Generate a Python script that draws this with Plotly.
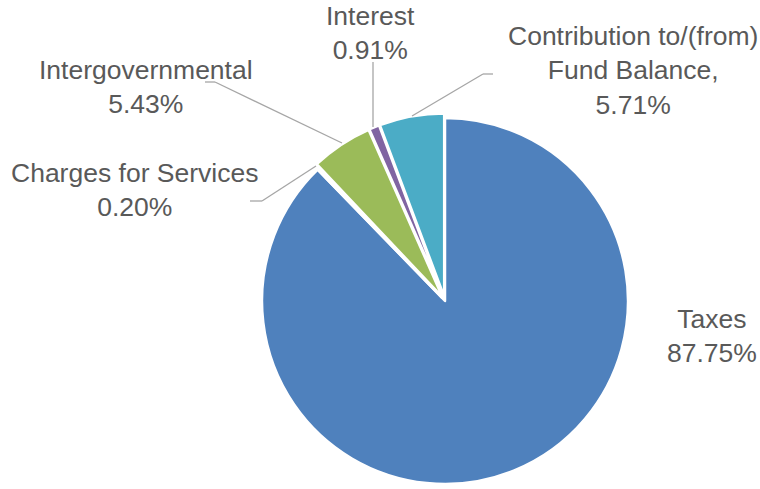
import plotly.graph_objects as go

categories = ["Taxes", "Charges for Services", "Intergovernmental", "Interest",
              "Contribution to/(from) Fund Balance,"]
values = [87.75, 0.20, 5.43, 0.91, 5.71]
colors = ["#4F81BD", "#C0504D", "#9BBB59", "#8064A2", "#4BACC6"]
pulls = [0, 0.025, 0.025, 0.025, 0.025]
label_texts = ["Taxes<br>87.75%", "Charges for Services<br>0.20%",
               "Intergovernmental<br>5.43%", "Interest<br>0.91%",
               "Contribution to/(from)<br>Fund Balance,<br>5.71%"]

W, H = 760, 489
cx, cy, r = 445, 301, 183
rd = r * (1 + max(pulls))


def px(x):
    return x / W


def py(y):
    return 1 - y / H


fig = go.Figure(go.Pie(
    labels=categories, values=values, sort=False, direction="clockwise",
    rotation=0, pull=pulls, textinfo="none", hoverinfo="label+percent",
    marker=dict(colors=colors, line=dict(color="white", width=2.5)),
    domain=dict(x=[px(cx - rd), px(cx + rd)], y=[py(cy + rd), py(cy - rd)]),
    showlegend=False,
))

# label positions (pixel centres) and leader lines
label_pos = [(712, 336), (134, 190), (146, 87), (370, 33), (633, 71)]
leaders = [
    None,
    [(250, 201), (262, 201), (316, 166)],
    [(205, 82), (215, 82), (342, 143)],
    [(373, 62), (373, 127)],
    [(493, 74), (483, 74), (412, 116)],
]

font = dict(family="Arial, Liberation Sans, sans-serif", size=26.5, color="#595959")
for txt, (x, y) in zip(label_texts, label_pos):
    fig.add_annotation(x=px(x), y=py(y), xref="paper", yref="paper", text=txt,
                       showarrow=False, font=font, align="center",
                       xanchor="center", yanchor="middle")

for pts in leaders:
    if not pts:
        continue
    for (x0, y0), (x1, y1) in zip(pts[:-1], pts[1:]):
        fig.add_shape(type="line", xref="paper", yref="paper",
                      x0=px(x0), y0=py(y0), x1=px(x1), y1=py(y1),
                      line=dict(color="#A6A6A6", width=1.3))

fig.update_layout(width=W, height=H, margin=dict(l=0, r=0, t=0, b=0),
                  paper_bgcolor="white", plot_bgcolor="white")
fig.write_html("out.html")
